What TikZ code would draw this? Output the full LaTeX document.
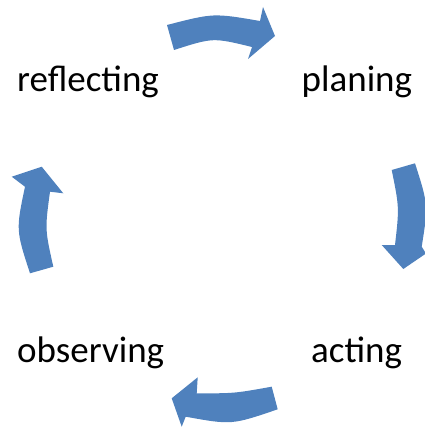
\documentclass[tikz,border=0pt]{standalone}
\usepackage{fontspec}
\setmainfont{Carlito}
\usepackage{tikz}
\usetikzlibrary{positioning}
\definecolor{arrowblue}{RGB}{79,129,189}

\begin{document}
\begin{tikzpicture}[x=1pt,y=-1pt,
    stage/.style={anchor=base west,inner sep=0pt,font=\fontsize{37}{44}\selectfont},
    cyclearrow/.style={fill=arrowblue}]
  \useasboundingbox (0,0) rectangle (425,428);

  % block arrows
  \fill[cyclearrow] (167,25) .. controls (213.5,13) .. (260,21) -- (263,7) -- (275,36)
    -- (248,59) -- (252,47) .. controls (213,37.5) .. (174,50) -- cycle;
  \fill[cyclearrow] (391.7,170) -- (415,163.3) .. controls (428.3,205) .. (421.7,246.7)
    -- (426,253.5) -- (403.3,269) -- (381.7,245) -- (395,245)
    .. controls (399.3,207.5) .. (391.7,170) -- cycle;
  \fill[cyclearrow] (271.7,386.7) .. controls (234.2,393.4) .. (196.7,393.3) -- (197.7,377.3)
    -- (171.7,398.3) -- (181.7,426.7) -- (185.7,416.7)
    .. controls (231.7,425) .. (277.7,409.3) -- cycle;
  \fill[cyclearrow] (30,273.3) .. controls (15.9,230) .. (25,186.7) -- (11.7,176.7)
    -- (41.7,166.7) -- (63.3,193.3) -- (50,191.7)
    .. controls (44.9,229.2) .. (53.3,266.7) -- cycle;

  % stages
  \node[stage] (reflect) at (17,92) {reflecting};
  \node[stage] (plan) at (301.5,92) {planing};
  \node[stage] (observe) at (17,362) {observing};
  \node[stage] (act) at (311,362) {acting};
\end{tikzpicture}
\end{document}
